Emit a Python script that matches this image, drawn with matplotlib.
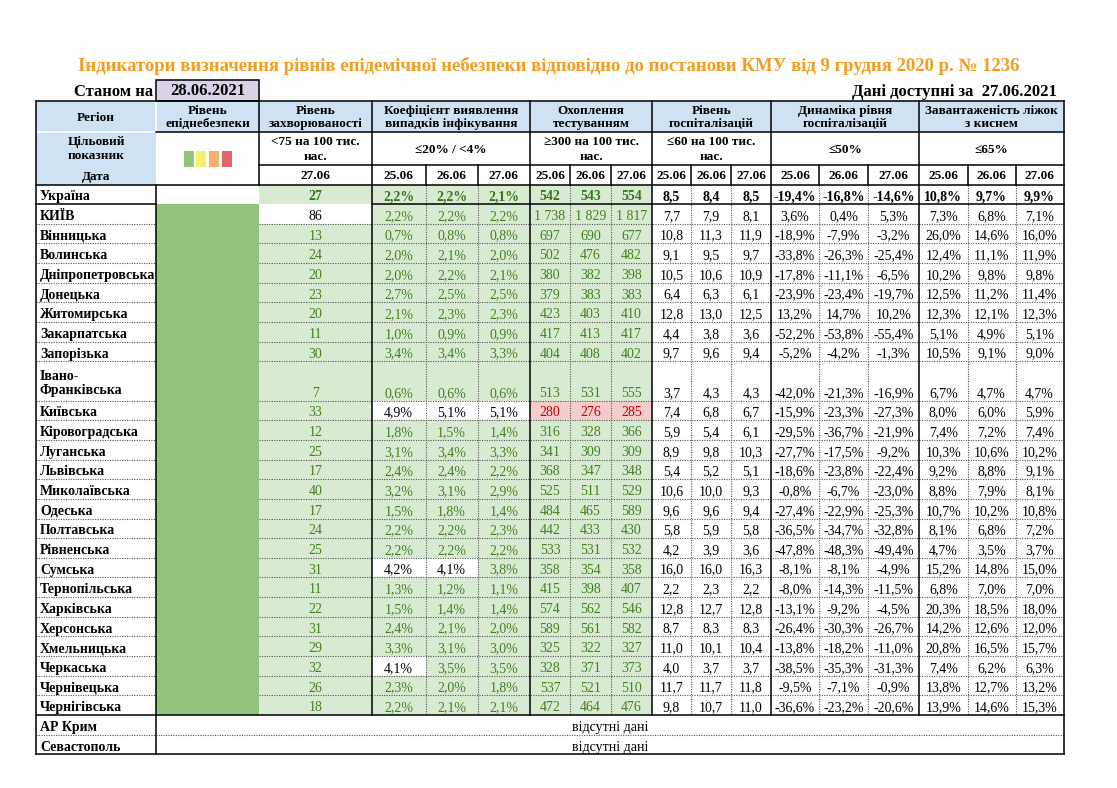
import matplotlib
matplotlib.use("Agg")
import matplotlib.pyplot as plt
from matplotlib.patches import Rectangle

plt.rcParams['font.family'] = ['Liberation Serif', 'DejaVu Serif']

# ---- data ----
regions = ["Україна", "КИЇВ", "Вінницька", "Волинська", "Дніпропетровська", "Донецька",
           "Житомирська", "Закарпатська", "Запорізька", "Івано-\nФранківська", "Київська",
           "Кіровоградська", "Луганська", "Львівська", "Миколаївська", "Одеська",
           "Полтавська", "Рівненська", "Сумська", "Тернопільська", "Харківська",
           "Херсонська", "Хмельницька", "Черкаська", "Чернівецька", "Чернігівська"]
no_data_regions = ["АР Крим", "Севастополь"]
no_data_text = "відсутні дані"

dates = ["25.06", "26.06", "27.06"]
epid_level = [None] + ["green"] * 25
zakh = [27, 86, 13, 24, 20, 23, 20, 11, 30, 7, 33, 12, 25, 17, 40, 17, 24, 25, 31, 11, 22, 31, 29, 32, 26, 18]
koef_25 = [2.2, 2.2, 0.7, 2.0, 2.0, 2.7, 2.1, 1.0, 3.4, 0.6, 4.9, 1.8, 3.1, 2.4, 3.2, 1.5, 2.2, 2.2, 4.2, 1.3, 1.5, 2.4, 3.3, 4.1, 2.3, 2.2]
koef_26 = [2.2, 2.2, 0.8, 2.1, 2.2, 2.5, 2.3, 0.9, 3.4, 0.6, 5.1, 1.5, 3.4, 2.4, 3.1, 1.8, 2.2, 2.2, 4.1, 1.2, 1.4, 2.1, 3.1, 3.5, 2.0, 2.1]
koef_27 = [2.1, 2.2, 0.8, 2.0, 2.1, 2.5, 2.3, 0.9, 3.3, 0.6, 5.1, 1.4, 3.3, 2.2, 2.9, 1.4, 2.3, 2.2, 3.8, 1.1, 1.4, 2.0, 3.0, 3.5, 1.8, 2.1]
test_25 = [542, 1738, 697, 502, 380, 379, 423, 417, 404, 513, 280, 316, 341, 368, 525, 484, 442, 533, 358, 415, 574, 589, 325, 328, 537, 472]
test_26 = [543, 1829, 690, 476, 382, 383, 403, 413, 408, 531, 276, 328, 309, 347, 511, 465, 433, 531, 354, 398, 562, 561, 322, 371, 521, 464]
test_27 = [554, 1817, 677, 482, 398, 383, 410, 417, 402, 555, 285, 366, 309, 348, 529, 589, 430, 532, 358, 407, 546, 582, 327, 373, 510, 476]
hosp_25 = [8.5, 7.7, 10.8, 9.1, 10.5, 6.4, 12.8, 4.4, 9.7, 3.7, 7.4, 5.9, 8.9, 5.4, 10.6, 9.6, 5.8, 4.2, 16.0, 2.2, 12.8, 8.7, 11.0, 4.0, 11.7, 9.8]
hosp_26 = [8.4, 7.9, 11.3, 9.5, 10.6, 6.3, 13.0, 3.8, 9.6, 4.3, 6.8, 5.4, 9.8, 5.2, 10.0, 9.6, 5.9, 3.9, 16.0, 2.3, 12.7, 8.3, 10.1, 3.7, 11.7, 10.7]
hosp_27 = [8.5, 8.1, 11.9, 9.7, 10.9, 6.1, 12.5, 3.6, 9.4, 4.3, 6.7, 6.1, 10.3, 5.1, 9.3, 9.4, 5.8, 3.6, 16.3, 2.2, 12.8, 8.3, 10.4, 3.7, 11.8, 11.0]
dyn_25 = [-19.4, 3.6, -18.9, -33.8, -17.8, -23.9, 13.2, -52.2, -5.2, -42.0, -15.9, -29.5, -27.7, -18.6, -0.8, -27.4, -36.5, -47.8, -8.1, -8.0, -13.1, -26.4, -13.8, -38.5, -9.5, -36.6]
dyn_26 = [-16.8, 0.4, -7.9, -26.3, -11.1, -23.4, 14.7, -53.8, -4.2, -21.3, -23.3, -36.7, -17.5, -23.8, -6.7, -22.9, -34.7, -48.3, -8.1, -14.3, -9.2, -30.3, -18.2, -35.3, -7.1, -23.2]
dyn_27 = [-14.6, 5.3, -3.2, -25.4, -6.5, -19.7, 10.2, -55.4, -1.3, -16.9, -27.3, -21.9, -9.2, -22.4, -23.0, -25.3, -32.8, -49.4, -4.9, -11.5, -4.5, -26.7, -11.0, -31.3, -0.9, -20.6]
beds_25 = [10.8, 7.3, 26.0, 12.4, 10.2, 12.5, 12.3, 5.1, 10.5, 6.7, 8.0, 7.4, 10.3, 9.2, 8.8, 10.7, 8.1, 4.7, 15.2, 6.8, 20.3, 14.2, 20.8, 7.4, 13.8, 13.9]
beds_26 = [9.7, 6.8, 14.6, 11.1, 9.8, 11.2, 12.1, 4.9, 9.1, 4.7, 6.0, 7.2, 10.6, 8.8, 7.9, 10.2, 6.8, 3.5, 14.8, 7.0, 18.5, 12.6, 16.5, 6.2, 12.7, 14.6]
beds_27 = [9.9, 7.1, 16.0, 11.9, 9.8, 11.4, 12.3, 5.1, 9.0, 4.7, 5.9, 7.4, 10.2, 9.1, 8.1, 10.8, 7.2, 3.7, 15.0, 7.0, 18.0, 12.0, 15.7, 6.3, 13.2, 15.3]

title = "Індикатори визначення рівнів епідемічної небезпеки відповідно до постанови КМУ від 9 грудня 2020 р. № 1236"
as_of = "28.06.2021"
avail = "Дані доступні за  27.06.2021"
headers = ["Регіон", "Рівень\nепіднебезпеки", "Рівень\nзахворюваності",
           "Коефіцієнт виявлення\nвипадків інфікування", "Охоплення\nтестуванням",
           "Рівень\nгоспіталізацій", "Динаміка рівня\nгоспіталізацій",
           "Завантаженість ліжок\nз киснем"]
targets = ["<75 на 100 тис.\nнас.", "≤20% / <4%", "≥300 на 100 тис.\nнас.",
           "≤60 на 100 тис.\nнас.", "≤50%", "≤65%"]

# ---- layout (pixels) ----
xs = [36, 156, 259, 372, 425.5, 477.5, 530, 570, 611, 652, 691, 731, 771, 819, 868, 919, 967.5, 1015.5, 1063.5]
y_top, y_h1, y_h2, y_h3 = 101, 132, 165, 184.5
rh = 19.65
toff = 2.5  # cell text sits a little low, like bottom-aligned spreadsheet cells
row_units = [2 if "\n" in r else 1 for r in regions]

blue = '#cfe2f3'
lgreen = '#d9ead3'
dgreen = '#93c47d'
pink = '#f4cccc'
tgreen = '#44801f'
tgreen_b = '#38761d'
tred = '#c00000'
fs = 10
hfs = 9.5

fig = plt.figure(figsize=(11.17, 7.88), dpi=100)
ax = fig.add_axes([0, 0, 1, 1])
ax.set_xlim(0, 1117)
ax.set_ylim(788, 0)
ax.axis('off')


def rect(x0, x1, y0, y1, color):
    ax.add_patch(Rectangle((x0, y0), x1 - x0, y1 - y0, facecolor=color, edgecolor='none', zorder=1))


def hline(y, x0, x1, style='solid'):
    if style == 'solid':
        ax.plot([x0, x1], [y, y], color='black', lw=1.1, zorder=3, solid_capstyle='projecting')
    else:
        ax.plot([x0, x1], [y, y], color='#555555', lw=0.8, ls=(0, (1, 1.2)), zorder=2)


def vline(x, y0, y1, style='solid'):
    if style == 'solid':
        ax.plot([x, x], [y0, y1], color='black', lw=1.1, zorder=3, solid_capstyle='projecting')
    else:
        ax.plot([x, x], [y0, y1], color='#555555', lw=0.8, ls=(0, (1, 1.2)), zorder=2)


def cx(i):
    return (xs[i] + xs[i + 1]) / 2


# title and top labels
ax.text(549, 66, title, ha='center', va='center', fontsize=13.5, fontweight='bold', color='#f59d1f')
ax.text(153, 91.5, "Станом на", ha='right', va='center', fontsize=12, fontweight='bold')
ax.add_patch(Rectangle((xs[1], 80), xs[2] - xs[1], y_top - 80, facecolor='#d9d2e9',
                       edgecolor='black', lw=1.1, zorder=3))
ax.text(cx(1), 91, as_of, ha='center', va='center', fontsize=12, fontweight='bold', zorder=4)
ax.text(1057, 92, avail, ha='right', va='center', fontsize=12, fontweight='bold')

# header fills
rect(xs[0], xs[-1], y_top, y_h1, blue)
rect(xs[0], xs[1], y_h1, y_h3, blue)
ax.plot([xs[0], xs[1]], [y_h1, y_h1], color='white', lw=1.2, zorder=2)
ax.plot([xs[1], xs[1]], [y_top, y_h1], color='white', lw=1.2, zorder=2)

# header texts
grp_cols = [(0, 1), (1, 2), (2, 3), (3, 6), (6, 9), (9, 12), (12, 15), (15, 18)]
for (a, b), h in zip(grp_cols, headers):
    ax.text((xs[a] + xs[b]) / 2, (y_top + y_h1) / 2 + 1, h, ha='center', va='center',
            fontsize=hfs, fontweight='bold', linespacing=1.1)
ax.text(cx(0), 149, "Цільовий\nпоказник", ha='center', va='center', fontsize=hfs,
        fontweight='bold', linespacing=1.25)
ax.text(cx(0), 176.5, "Дата", ha='center', va='center', fontsize=hfs, fontweight='bold')
for (a, b), t in zip(grp_cols[2:], targets):
    ax.text((xs[a] + xs[b]) / 2, 149.5, t, ha='center', va='center',
            fontsize=hfs, fontweight='bold', linespacing=1.3)

# level legend squares
level_colors = ['#93c47d', '#f2f26e', '#f6b26b', '#e06666']
for k, c in enumerate(level_colors):
    rect(183.5 + k * 12.7, 193.5 + k * 12.7, 150.5, 166.5, c)

# date row
ax.text(cx(2), (y_h2 + y_h3) / 2 + 1, "27.06", ha='center', va='center', fontsize=hfs, fontweight='bold')
for g in range(5):
    for j, d in enumerate(dates):
        ax.text(cx(3 + 3 * g + j), (y_h2 + y_h3) / 2 + 1, d, ha='center', va='center',
                fontsize=hfs, fontweight='bold')


def fmt_dec(v):
    return f"{v:.1f}".replace('.', ',')


def fmt_pct(v):
    return f"{v:.1f}%".replace('.', ',')


def fmt_int(v):
    return f"{v:,}".replace(',', ' ')


koef = [koef_25, koef_26, koef_27]
test = [test_25, test_26, test_27]
hosp = [hosp_25, hosp_26, hosp_27]
dyn = [dyn_25, dyn_26, dyn_27]
beds = [beds_25, beds_26, beds_27]

# data rows
y = y_h3
row_bottoms = []
for i, name in enumerate(regions):
    y0 = y
    y1 = y + rh * row_units[i]
    row_bottoms.append(y1)
    ym = y1 - rh / 2 + toff
    bold = 'bold' if i == 0 else 'normal'
    green_txt = tgreen_b if i == 0 else tgreen

    ax.text(xs[0] + 4, (y0 + y1) / 2 + toff, name, ha='left', va='center', fontsize=fs,
            fontweight='bold', linespacing=1.0)
    if epid_level[i] == 'green':
        rect(xs[1], xs[2], y0, y1, dgreen)

    # incidence
    good = zakh[i] < 75
    rect(xs[2], xs[3], y0, y1, lgreen if good else 'white')
    ax.text(cx(2), ym, str(zakh[i]), ha='center', va='center', fontsize=fs, fontweight=bold,
            color=green_txt if good else 'black')

    for j in range(3):
        good = koef[j][i] < 4
        rect(xs[3 + j], xs[4 + j], y0, y1, lgreen if good else 'white')
        ax.text(cx(3 + j), ym, fmt_pct(koef[j][i]), ha='center', va='center', fontsize=fs,
                fontweight=bold, color=green_txt if good else 'black')

        good = test[j][i] >= 300
        rect(xs[6 + j], xs[7 + j], y0, y1, lgreen if good else pink)
        ax.text(cx(6 + j), ym, fmt_int(test[j][i]), ha='center', va='center', fontsize=fs,
                fontweight=bold, color=green_txt if good else tred)

        ax.text(cx(9 + j), ym, fmt_dec(hosp[j][i]), ha='center', va='center', fontsize=fs, fontweight=bold)
        ax.text(cx(12 + j), ym, fmt_pct(dyn[j][i]), ha='center', va='center', fontsize=fs, fontweight=bold)
        ax.text(cx(15 + j), ym, fmt_pct(beds[j][i]), ha='center', va='center', fontsize=fs, fontweight=bold)
    y = y1

y_data_end = y
for name in no_data_regions:
    ax.text(xs[0] + 4, y + rh / 2 + toff, name, ha='left', va='center', fontsize=fs, fontweight='bold')
    ax.text((xs[1] + xs[-1]) / 2, y + rh / 2 + toff, no_data_text, ha='center', va='center', fontsize=fs)
    y += rh
y_bottom = y

# grid lines
hline(y_top, xs[0], xs[-1])
hline(y_h1, xs[1], xs[-1])
hline(y_h2, xs[2], xs[-1])
hline(y_h3, xs[0], xs[-1])
hline(row_bottoms[0], xs[0], xs[1])
hline(row_bottoms[0], xs[3], xs[-1])
for yb in row_bottoms[1:-1]:
    hline(yb, xs[0], xs[1], 'dot')
    hline(yb, xs[2], xs[-1], 'dot')
hline(y_data_end, xs[0], xs[-1])
hline(y_data_end + rh, xs[0], xs[-1], 'dot')
hline(y_bottom, xs[0], xs[-1])

vline(xs[0], y_top, y_bottom)
vline(xs[-1], y_top, y_bottom)
vline(xs[1], y_h3, y_bottom)
vline(xs[2], y_top, y_h3)
for k in [3, 6, 9, 12, 15]:
    vline(xs[k], y_top, y_data_end)
for k in [4, 5, 7, 8, 10, 11, 13, 14, 16, 17]:
    vline(xs[k], y_h2, y_h3)
    vline(xs[k], y_h3, y_data_end, 'dot')

fig.savefig("out.png", dpi=100)
